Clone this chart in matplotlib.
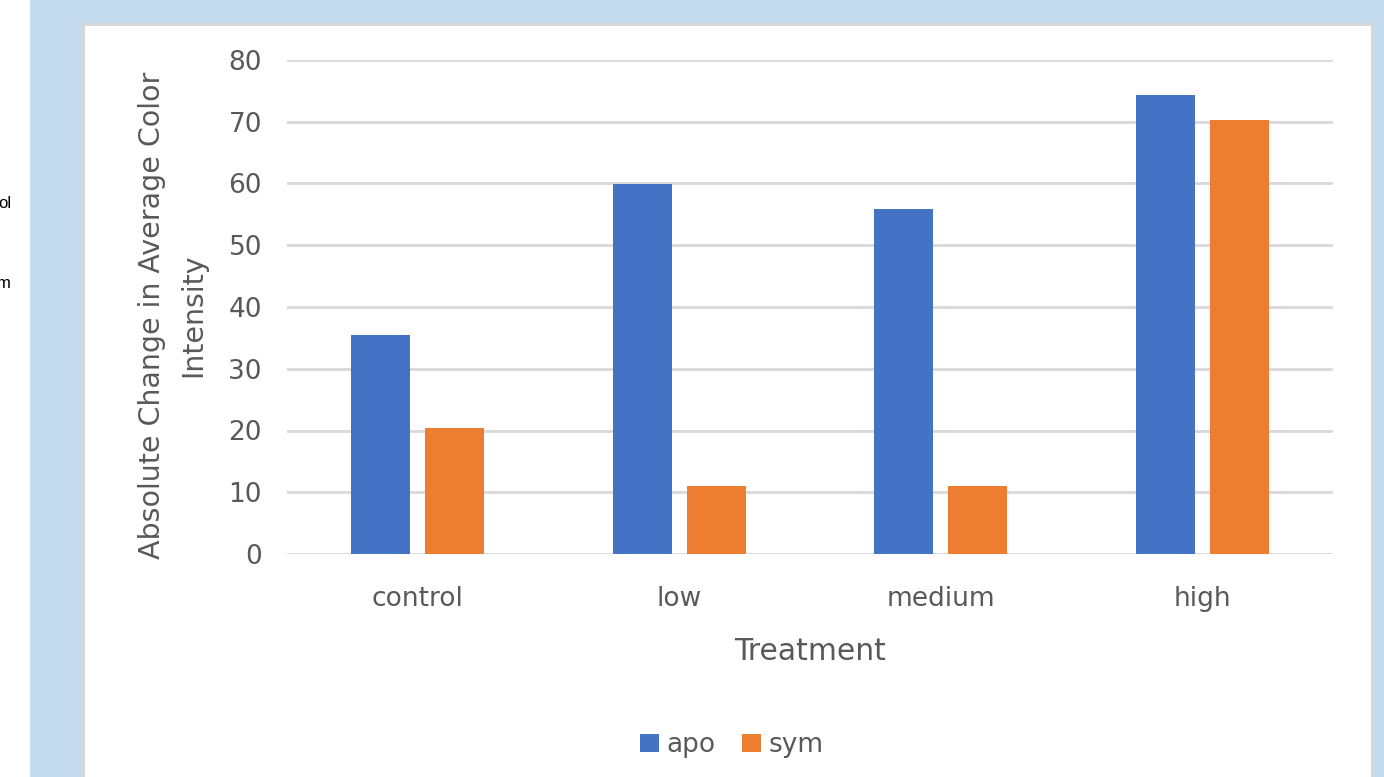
import numpy as np
import matplotlib.pyplot as plt
from matplotlib.patches import Rectangle, Patch

categories = ['control', 'low', 'medium', 'high']
apo = [35.5, 59.9, 55.9, 74.3]
sym = [20.4, 11.0, 11.0, 70.3]
y_ticks = [0, 10, 20, 30, 40, 50, 60, 70, 80]

W, H = 1384, 777
fig = plt.figure(figsize=(W / 100, H / 100), dpi=100, facecolor='#c5dbef')

# white strip on the far left with clipped text
fig.patches.append(Rectangle((0, 0), 30 / W, 1, transform=fig.transFigure,
                             facecolor='white', edgecolor='none', zorder=-2))
fig.text(-2 / W, 1 - 203 / H, 'ol', fontsize=12, color='black', va='center',
         family='Liberation Sans')
fig.text(-3 / W, 1 - 283 / H, 'm', fontsize=12, color='black', va='center',
         family='Liberation Sans')

# chart frame
fig.patches.append(Rectangle((83 / W, -0.05), (1372 - 83) / W, 1.05 - 24 / H,
                             transform=fig.transFigure, facecolor='white',
                             edgecolor='#d6d6d6', linewidth=2, zorder=-1))

ax = fig.add_axes([287 / W, 1 - 554 / H, (1333 - 287) / W, (554 - 60) / H])
ax.set_facecolor('none')
ax.set_zorder(2)

x = np.arange(len(categories))
bw = 0.225
ax.bar(x - 0.142, apo, width=bw, color='#4472C4', zorder=3, label='apo')
ax.bar(x + 0.142, sym, width=bw, color='#ED7D31', zorder=3, label='sym')

ax.set_xlim(-0.5, len(categories) - 0.5)
ax.set_ylim(0, 80)
ax.set_yticks(y_ticks)
ax.set_xticks(x)
ax.set_xticklabels(categories)
ax.grid(axis='y', color='#d9d9d9', linewidth=2, zorder=0)
ax.set_axisbelow(True)
for s in ax.spines.values():
    s.set_visible(False)
ax.tick_params(axis='both', length=0, labelsize=19, colors='#595959')
ax.tick_params(axis='y', pad=18)
ax.tick_params(axis='x', pad=23)

ax.set_ylabel('Absolute Change in Average Color\nIntensity', fontsize=20.5,
              color='#595959', linespacing=1.6)
ax.yaxis.set_label_coords(-0.076, 0.484)
ax.set_xlabel('Treatment', fontsize=21.5, color='#595959', labelpad=18)

handles = [Patch(facecolor='#4472C4', label='apo'),
           Patch(facecolor='#ED7D31', label='sym')]
leg = fig.legend(handles=handles, loc='center', bbox_to_anchor=(732 / W, 1 - 745 / H),
                 ncol=2, frameon=False, fontsize=19, handlelength=0.7,
                 handleheight=0.7, handletextpad=0.3, columnspacing=1.0)
for t in leg.get_texts():
    t.set_color('#595959')

fig.savefig('out.png', dpi=100, facecolor=fig.get_facecolor())
